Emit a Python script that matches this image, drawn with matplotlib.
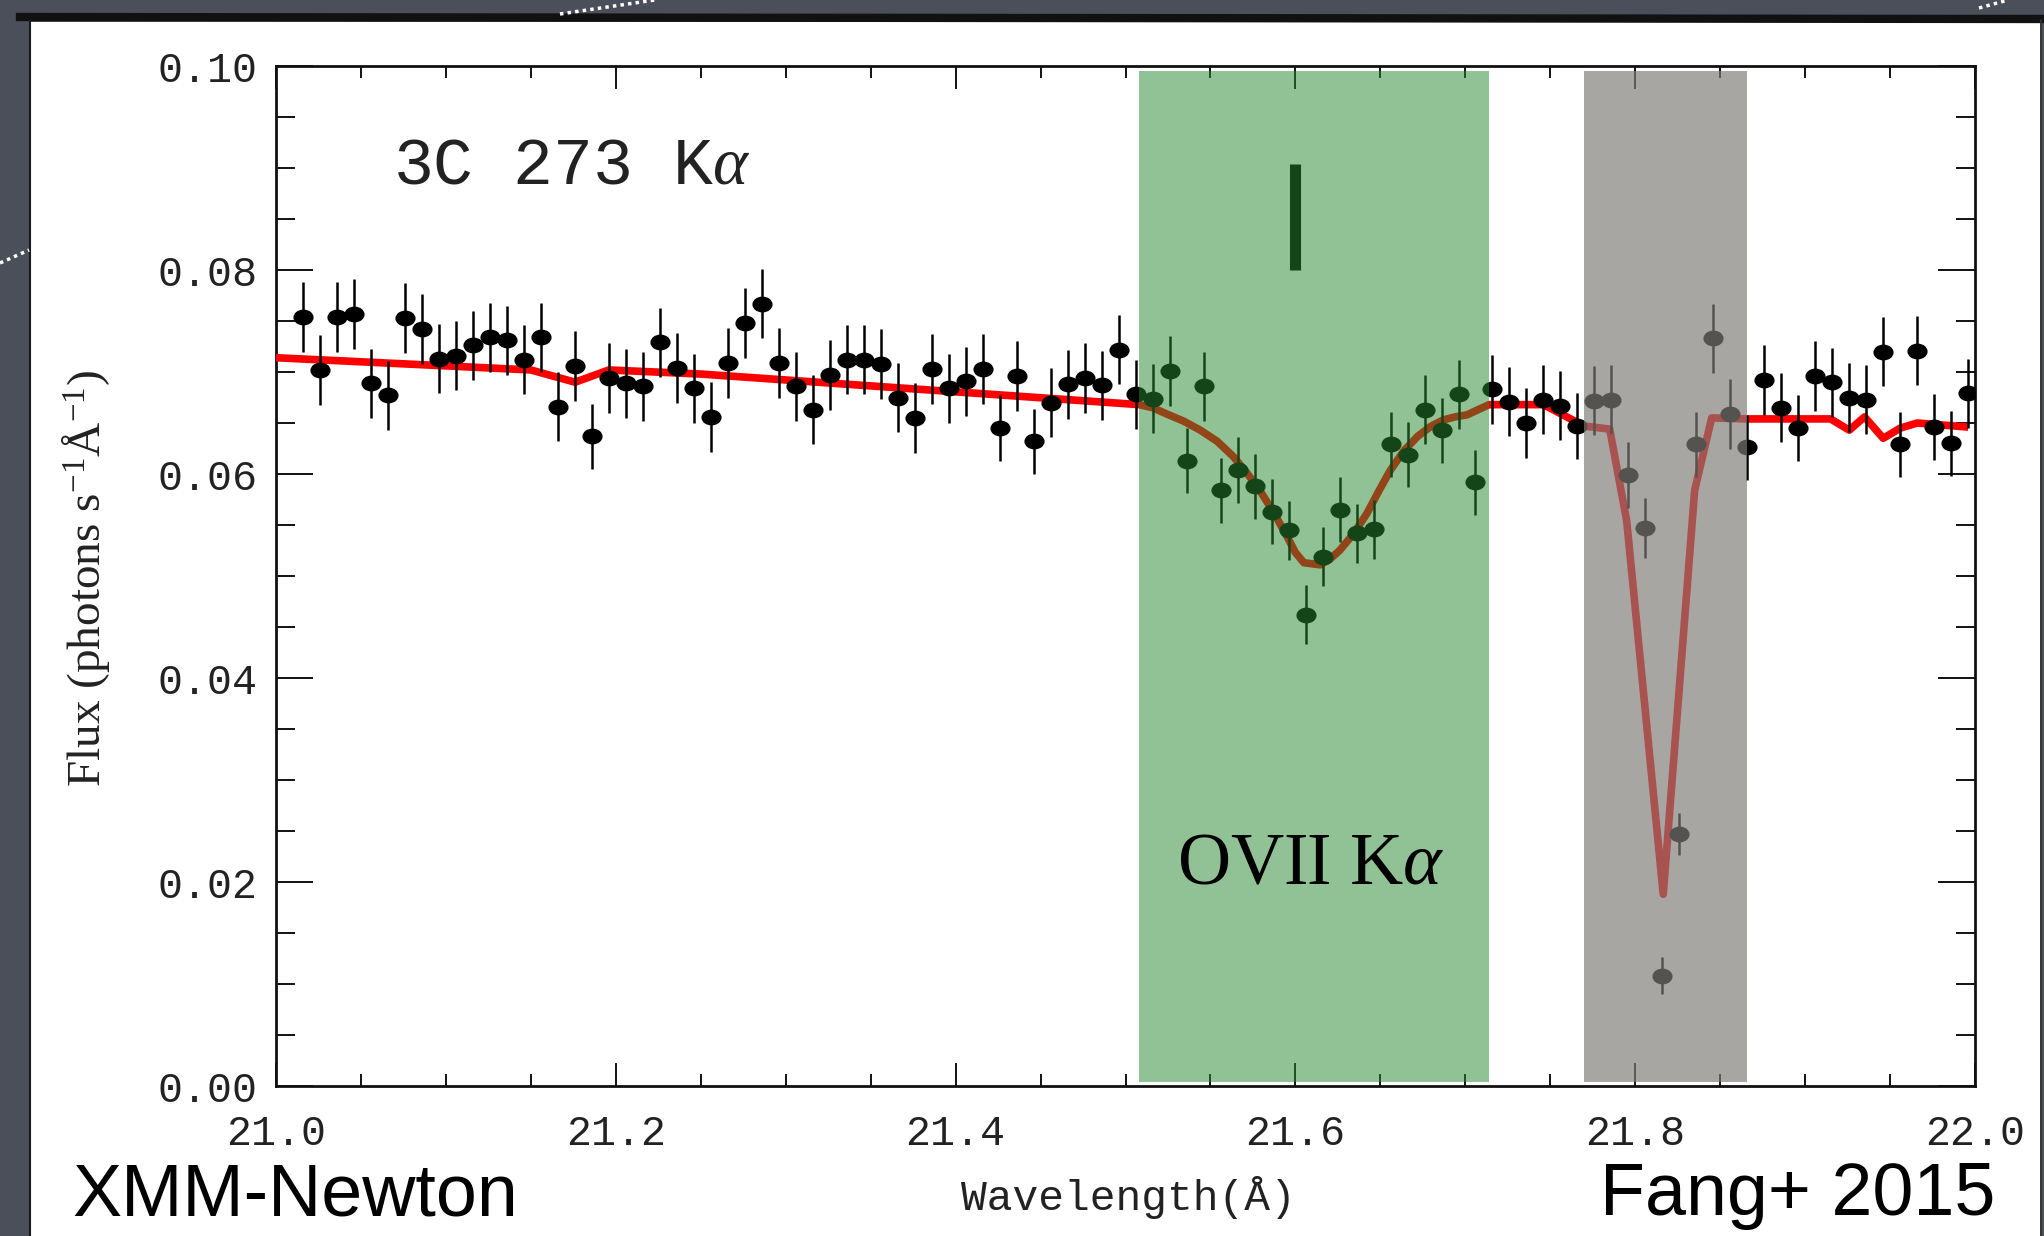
import matplotlib
matplotlib.use("Agg")
import matplotlib.pyplot as plt
from matplotlib.path import Path
from matplotlib.patches import Rectangle
from matplotlib.lines import Line2D
from matplotlib.ticker import MultipleLocator, FixedLocator

# ====== data (3C 273, XMM RGS, Fang+ 2015) ======
wave = [
    21.016, 21.026, 21.036, 21.046, 21.056, 21.066, 21.076, 21.086, 21.096, 21.106,
    21.116, 21.126, 21.136, 21.146, 21.156, 21.166, 21.176, 21.186, 21.196, 21.206,
    21.216, 21.226, 21.236, 21.246, 21.256, 21.266, 21.276, 21.286, 21.296, 21.306,
    21.316, 21.326, 21.336, 21.346, 21.356, 21.366, 21.376, 21.386, 21.396, 21.406,
    21.416, 21.426, 21.436, 21.446, 21.456, 21.466, 21.476, 21.486, 21.496, 21.506,
    21.516, 21.526, 21.536, 21.546, 21.556, 21.566, 21.576, 21.586, 21.596, 21.606,
    21.616, 21.626, 21.636, 21.646, 21.656, 21.666, 21.676, 21.686, 21.696, 21.706,
    21.716, 21.726, 21.736, 21.746, 21.756, 21.766, 21.776, 21.786, 21.796, 21.806,
    21.816, 21.826, 21.836, 21.846, 21.856, 21.866, 21.876, 21.886, 21.896, 21.906,
    21.916, 21.926, 21.936, 21.946, 21.956, 21.966, 21.976, 21.986, 21.996,
]
flux = [
    0.0754, 0.0702, 0.0754, 0.0757, 0.0689, 0.0677, 0.0753, 0.0742, 0.0713, 0.0716,
    0.0726, 0.0734, 0.0731, 0.0712, 0.0734, 0.0666, 0.0706, 0.0637, 0.0694, 0.0689,
    0.0686, 0.0729, 0.0704, 0.0684, 0.0656, 0.0709, 0.0748, 0.0767, 0.0709, 0.0686,
    0.0663, 0.0697, 0.0712, 0.0712, 0.0708, 0.0675, 0.0655, 0.0703, 0.0684, 0.0691,
    0.0703, 0.0645, 0.0696, 0.0632, 0.0670, 0.0688, 0.0694, 0.0687, 0.0722, 0.0678,
    0.0674, 0.0701, 0.0613, 0.0686, 0.0584, 0.0604, 0.0588, 0.0563, 0.0545, 0.0462,
    0.0519, 0.0565, 0.0542, 0.0546, 0.0629, 0.0619, 0.0663, 0.0643, 0.0678, 0.0592,
    0.0683, 0.0671, 0.0650, 0.0673, 0.0667, 0.0647, 0.0672, 0.0673, 0.0599, 0.0547,
    0.0108, 0.0247, 0.0629, 0.0733, 0.0659, 0.0626, 0.0692, 0.0665, 0.0645, 0.0696,
    0.0690, 0.0675, 0.0673, 0.0720, 0.0629, 0.0721, 0.0646, 0.0630, 0.0679,
]
flux_err = [
    0.0034, 0.0034, 0.0034, 0.0034, 0.0034, 0.0034, 0.0034, 0.0034, 0.0034, 0.0034,
    0.0034, 0.0034, 0.0034, 0.0034, 0.0034, 0.0034, 0.0034, 0.0032, 0.0034, 0.0034,
    0.0034, 0.0034, 0.0034, 0.0034, 0.0034, 0.0034, 0.0034, 0.0034, 0.0034, 0.0034,
    0.0034, 0.0034, 0.0034, 0.0034, 0.0034, 0.0034, 0.0034, 0.0034, 0.0034, 0.0034,
    0.0034, 0.0032, 0.0034, 0.0032, 0.0034, 0.0034, 0.0034, 0.0034, 0.0034, 0.0034,
    0.0034, 0.0034, 0.0032, 0.0034, 0.0032, 0.0032, 0.0032, 0.0032, 0.0029, 0.0029,
    0.0029, 0.0032, 0.0029, 0.0029, 0.0032, 0.0032, 0.0034, 0.0032, 0.0034, 0.0032,
    0.0034, 0.0034, 0.0034, 0.0034, 0.0034, 0.0032, 0.0034, 0.0034, 0.0032, 0.0029,
    0.0018, 0.0021, 0.0032, 0.0034, 0.0034, 0.0032, 0.0034, 0.0034, 0.0032, 0.0034,
    0.0034, 0.0034, 0.0034, 0.0034, 0.0032, 0.0034, 0.0032, 0.0032, 0.0034,
]

# best-fit model (continuum + OVII Ka + instrumental feature)
model_wave = [
    21.000, 21.150, 21.176, 21.196, 21.250, 21.508,
    21.516, 21.524, 21.534, 21.544, 21.554, 21.5635, 21.571, 21.579, 21.587, 21.595,
    21.600, 21.605, 21.6145, 21.620, 21.626, 21.634, 21.642, 21.649, 21.656, 21.664,
    21.672, 21.680, 21.687, 21.694, 21.701, 21.714,
    21.746, 21.770, 21.785, 21.795, 21.8165, 21.835, 21.845, 21.866,
    21.915, 21.926, 21.935, 21.946, 21.956, 21.966, 21.996,
]
model_flux = [
    0.0714, 0.0702, 0.0690, 0.0702, 0.0698, 0.0668,
    0.0665, 0.0659, 0.0652, 0.0643, 0.0632, 0.0617, 0.0602, 0.0584, 0.0563, 0.0539,
    0.0523, 0.0513, 0.0511, 0.0516, 0.0525, 0.0541, 0.0561, 0.0583, 0.0604, 0.0623,
    0.0637, 0.0647, 0.0653, 0.0656, 0.0658, 0.0668,
    0.0668, 0.0647, 0.0644, 0.0554, 0.0188, 0.0584, 0.0655, 0.0654,
    0.0654, 0.0643, 0.0656, 0.0635, 0.0645, 0.0650, 0.0646,
]

ovii_band = (21.508, 21.714)
instr_band = (21.770, 21.866)
ovii_line = 21.600
xtick_vals = [21.0, 21.2, 21.4, 21.6, 21.8, 22.0]
ytick_vals = [0.00, 0.02, 0.04, 0.06, 0.08, 0.10]

W, H = 2044, 1236


def fx(px):
    return px / W


def fy(py):
    return 1 - py / H


def main():
    plt.rcParams["mathtext.fontset"] = "custom"
    plt.rcParams["mathtext.rm"] = "Liberation Serif"
    plt.rcParams["mathtext.it"] = "Liberation Serif:italic"

    fig = plt.figure(figsize=(W / 100, H / 100), dpi=100, facecolor="#4a4f5a")

    # slide: white panel on dark background (kept below the axes)
    fig.patches.append(Rectangle((fx(30), 0), fx(2040) - fx(30), fy(22), transform=fig.transFigure,
                                 facecolor="white", edgecolor="none", zorder=-3))
    fig.lines.append(Line2D([fx(20), fx(2044)], [fy(17), fy(19)], transform=fig.transFigure,
                            color="#111111", lw=6, zorder=-2))
    fig.lines.append(Line2D([fx(30), fx(30)], [0, fy(20)], transform=fig.transFigure,
                            color="#1a1a1a", lw=1.5, zorder=-2))
    fig.lines.append(Line2D([fx(2041), fx(2041)], [0, fy(20)], transform=fig.transFigure,
                            color="#333333", lw=1.2, zorder=-2))
    for xs, ys in [((0, 29), (263, 250)), ((560, 655), (14, 0)), ((1979, 2008), (8, 0))]:
        fig.lines.append(Line2D([fx(xs[0]), fx(xs[1])], [fy(ys[0]), fy(ys[1])],
                                transform=fig.transFigure, color="white", lw=2.5,
                                ls=(0, (1, 1.2)), zorder=-2))

    ax = fig.add_axes([fx(276), fy(1086), fx(1975) - fx(276), fy(66) - fy(1086)])
    ax.set_facecolor("none")
    ax.set_xlim(21.0, 22.0)
    ax.set_ylim(0.0, 0.10)

    # model and data
    ax.plot(model_wave, model_flux, color="red", lw=5.5, solid_joinstyle="round",
            solid_capstyle="butt", zorder=2.8)
    circ = Path.unit_circle()
    ellipse = Path(circ.vertices * [1.3, 1.0], circ.codes)
    ax.errorbar(wave, flux, yerr=flux_err, fmt="none", ecolor="black", elinewidth=1.8,
                capsize=0, zorder=3)
    ax.plot(wave, flux, ls="none", marker=ellipse, ms=13.5, color="black", zorder=3.1)
    ax.plot([ovii_line, ovii_line], [0.0800, 0.0904], color="black", lw=8,
            solid_capstyle="butt", zorder=3)

    # highlighted bands drawn over the spectrum
    ax.add_patch(Rectangle((ovii_band[0], 0.0004), ovii_band[1] - ovii_band[0], 0.0991,
                           facecolor=(39 / 255, 137 / 255, 49 / 255), alpha=0.51,
                           edgecolor="none", zorder=4))
    ax.add_patch(Rectangle((instr_band[0], 0.0004), instr_band[1] - instr_band[0], 0.0991,
                           facecolor=(126 / 255, 124 / 255, 119 / 255), alpha=0.675,
                           edgecolor="none", zorder=4))

    ax.text(21.5303, 0.0199, r"OVII K$\alpha$", family="Liberation Serif", fontsize=53,
            color="black", ha="left", va="baseline", zorder=6)
    ax.text(21.0689, 0.0885, r"3C 273 K$\alpha$", family="Liberation Mono", fontsize=48,
            color="#222222", ha="left", va="baseline", zorder=6)

    # IDL-style axes
    for sp in ax.spines.values():
        sp.set_linewidth(2)
        sp.set_color("#111111")
    ax.xaxis.set_major_locator(FixedLocator(xtick_vals))
    ax.xaxis.set_minor_locator(MultipleLocator(0.05))
    ax.yaxis.set_major_locator(FixedLocator(ytick_vals))
    ax.yaxis.set_minor_locator(MultipleLocator(0.005))
    ax.set_xticklabels([f"{v:.1f}" for v in xtick_vals])
    ax.set_yticklabels([f"{v:.2f}" for v in ytick_vals])
    ax.tick_params(axis="both", which="both", direction="in", top=True, right=True,
                   width=1.4, color="#111111")
    ax.tick_params(axis="x", which="major", length=16.5, pad=20)
    ax.tick_params(axis="x", which="minor", length=8.6)
    ax.tick_params(axis="y", which="major", length=26.6, pad=13)
    ax.tick_params(axis="y", which="minor", length=13.7)
    for lab in ax.get_xticklabels() + ax.get_yticklabels():
        lab.set_family("Liberation Mono")
        lab.set_fontsize(30)
        lab.set_color("#222222")

    fig.text(fx(1128), fy(1210), "Wavelength(Å)", family="Liberation Mono", fontsize=31,
             color="#222222", ha="center", va="baseline")
    fig.text(fx(86), fy(578), "Flux (photons s$^{-1}$Å$^{-1}$)", family="Liberation Serif",
             fontsize=34, color="#222222", rotation=90, ha="center", va="center")

    fig.text(fx(72), fy(1215), "XMM-Newton", family="Liberation Sans", fontsize=53,
             color="black", ha="left", va="baseline")
    fig.text(fx(1995), fy(1215), "Fang+ 2015", family="Liberation Sans", fontsize=53,
             color="black", ha="right", va="baseline")

    fig.savefig("out.png", dpi=100, facecolor=fig.get_facecolor())
    plt.close(fig)


if __name__ == "__main__":
    main()
